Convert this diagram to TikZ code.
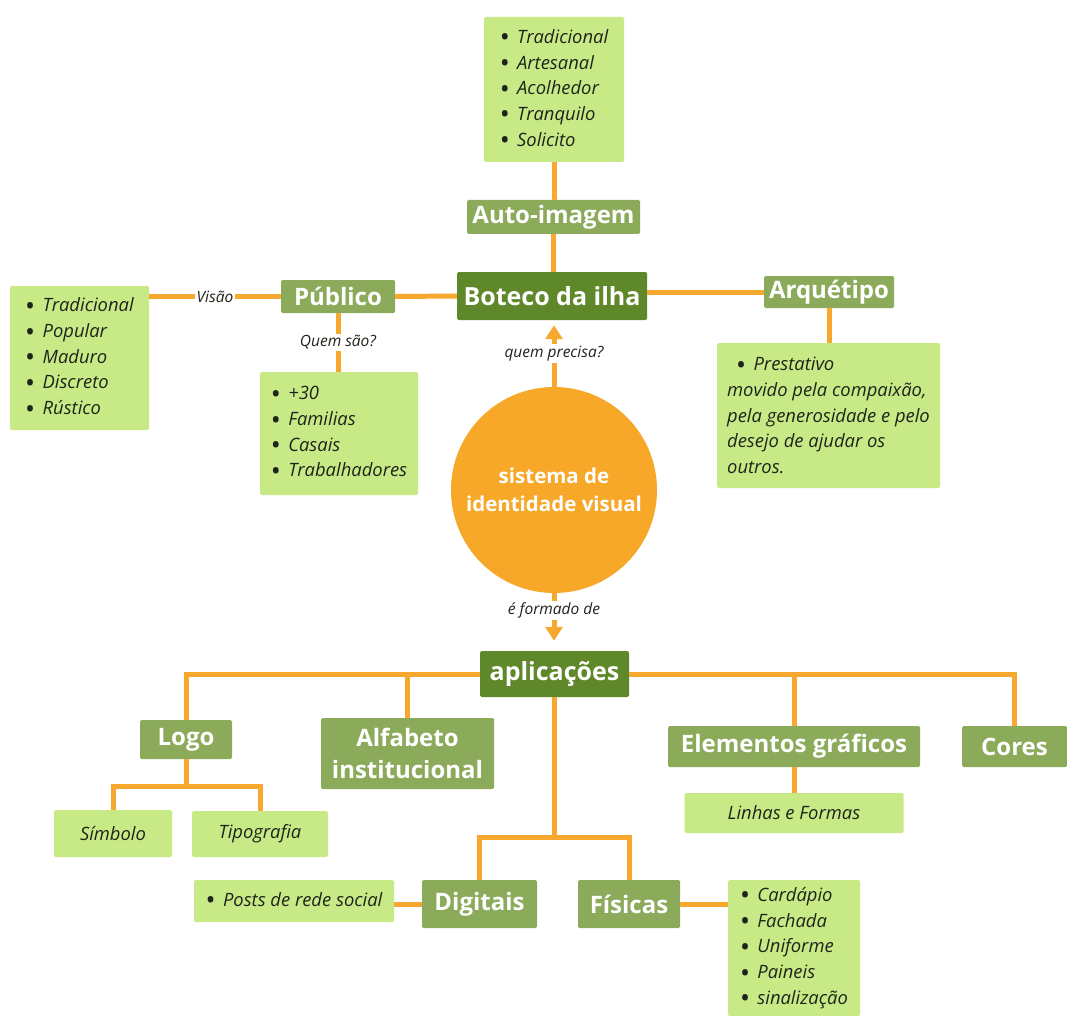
\documentclass[tikz,border=0pt]{standalone}
\usepackage{fontspec}
\setmainfont{Open Sans}
\usetikzlibrary{arrows.meta}
\definecolor{lightg}{HTML}{C8EA86}
\definecolor{midg}{HTML}{8BAA5A}
\definecolor{darkg}{HTML}{5F882B}
\definecolor{lineor}{HTML}{F6A82F}
\definecolor{circor}{HTML}{F8A829}
\definecolor{txt}{HTML}{1E241A}
\newcommand{\itm}{\raisebox{-0.19em}{\scalebox{1.45}{\upshape\textbullet}}\hspace{0.4em}}
\begin{document}
\begin{tikzpicture}[x=1pt,y=-1pt,
  conn/.style={draw=lineor, line width=5pt},
  lbox/.style={fill=lightg, inner sep=0pt, rounded corners=1.5pt, align=left, text=txt, font=\fontsize{18.4}{25.7}\selectfont\itshape},
  mbox/.style={fill=midg, inner sep=0pt, rounded corners=1.5pt, align=center, text=white, font=\fontsize{24}{32}\selectfont\bfseries},
  dbox/.style={fill=darkg, inner sep=0pt, rounded corners=1.5pt, text=white, font=\fontsize{25}{30}\selectfont\bfseries},
  lab/.style={fill=white, inner sep=2pt, text=txt, font=\fontsize{15.5}{17}\selectfont\itshape},
  arr/.style={conn, -{Triangle[length=14pt,width=17pt]}}]
\fill[white] (0,0) rectangle (1067,1016);
\path[use as bounding box] (0,0) rectangle (1067,1016);

% top
\node[lbox, minimum width=140pt, minimum height=145pt] (selfl) at (554,89.5)
  {\itm Tradicional\\ \itm Artesanal\\ \itm Acolhedor\\ \itm Tranquilo\\ \itm Solicito};
\node[mbox, minimum width=173pt, minimum height=34pt] (autoimg) at (553.5,217) {Auto-imagem};
\node[dbox, minimum width=190pt, minimum height=48pt] (boteco) at (552,296) {Boteco da ilha};
\node[mbox, minimum width=114pt, minimum height=33pt] (publico) at (338,296.5) {Público};
\node[mbox, minimum width=130pt, minimum height=32pt] (arquetipo) at (829,292) {Arquétipo};
\node[lbox, minimum width=139pt, minimum height=144pt] (leftl) at (79.5,358)
  {\itm Tradicional\\ \itm Popular\\ \itm Maduro\\ \itm Discreto\\ \itm Rústico};
\node[lbox, minimum width=158pt, minimum height=123pt] (quem) at (339,433.5)
  {\itm +30\\ \itm Familias\\ \itm Casais\\ \itm Trabalhadores};
\node[lbox, minimum width=223pt, minimum height=145pt] (arql) at (828.5,415.5)
  {\hspace{9pt}\itm Prestativo\\ movido pela compaixão,\\ pela generosidade e pelo\\ desejo de ajudar os\\ outros.};
\node[circle, fill=circor, minimum size=206pt, inner sep=0pt, align=center, text=white,
  font=\fontsize{20.5}{28}\selectfont\bfseries] (sis) at (554,490) {sistema de\\identidade visual};

% bottom
\node[dbox, minimum width=149pt, minimum height=46pt] (apl) at (554.5,674) {aplicações};
\node[mbox, minimum width=92pt, minimum height=39pt] (logo) at (186,739.5) {Logo};
\node[mbox, minimum width=173pt, minimum height=71pt] (alf) at (407.5,753.5) {Alfabeto\\institucional};
\node[mbox, minimum width=252pt, minimum height=41pt] (elem) at (794,746.5) {Elementos gráficos};
\node[mbox, minimum width=105pt, minimum height=41pt] (cores) at (1014.5,746.5) {Cores};
\node[lbox, minimum width=219pt, minimum height=40pt] (linhas) at (794,813) {Linhas e Formas};
\node[lbox, minimum width=118pt, minimum height=47pt] (simbolo) at (113,833.5) {Símbolo};
\node[lbox, minimum width=136pt, minimum height=46pt] (tipo) at (260,834) {Tipografia};
\node[mbox, minimum width=115pt, minimum height=48pt] (digitais) at (479.5,904) {Digitais};
\node[mbox, minimum width=102pt, minimum height=48pt] (fisicas) at (629,904) {Físicas};
\node[lbox, minimum width=200pt, minimum height=42pt] (posts) at (294,901) {\itm Posts de rede social};
\node[lbox, minimum width=132pt, minimum height=136pt] (fisl) at (794,948)
  {\itm Cardápio\\ \itm Fachada\\ \itm Uniforme\\ \itm Paineis\\ \itm sinalização};

\coordinate (lbar) at (186,786);
\coordinate (dbar) at (554.5,837);

% connectors
\draw[conn] (selfl.south) -- (selfl.south |- autoimg.north);
\draw[conn] (autoimg.south) -- (autoimg.south |- boteco.north);
\draw[conn] (publico.east) -- (boteco.west);
\draw[conn] (arquetipo.west) -- (arquetipo.west -| boteco.east);
\draw[conn] (leftl.east |- publico.west) -- node[lab]{Visão} (publico.west);
\draw[conn] (publico.south) -- node[lab]{Quem são?} (publico.south |- quem.north);
\draw[conn] (arquetipo.south) -- (arquetipo.south |- arql.north);
\draw[arr, shorten >=5pt] (sis.north) -- node[lab, pos=0.5]{quem precisa?} (sis.north |- boteco.south);
\draw[arr, shorten >=10pt] (sis.south) -- node[lab, pos=0.3]{é formado de} (sis.south |- apl.north);

\draw[conn] (apl.west) -| (logo.north);
\draw[conn] (alf.north) -- (alf.north |- apl.west);
\draw[conn] (apl.east) -| (cores.north);
\draw[conn] (elem.north) -- (elem.north |- apl.east);
\draw[conn] (elem.south) -- (elem.south |- linhas.north);
\draw[conn] (logo.south) -- (lbar);
\draw[conn] (simbolo.north) |- (lbar) -| (tipo.north);
\draw[conn] (apl.south) -- (dbar);
\draw[conn] (digitais.north) |- (dbar) -| (fisicas.north);
\draw[conn] (posts.east |- digitais.west) -- (digitais.west);
\draw[conn] (fisicas.east) -- (fisicas.east -| fisl.west);
\end{tikzpicture}
\end{document}
